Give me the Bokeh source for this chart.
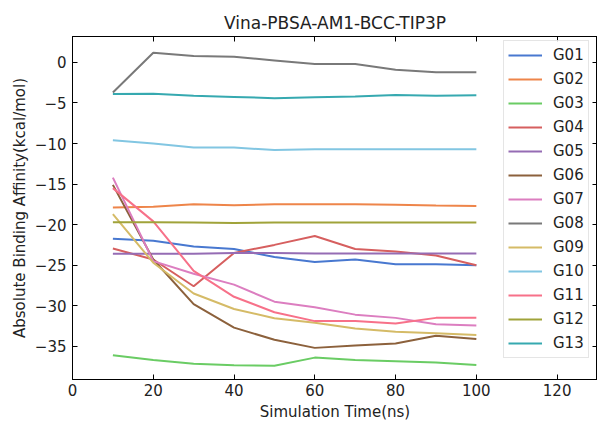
from bokeh.plotting import figure
from bokeh.models import LinearAxis, Range1d, FixedTicker, Legend, LegendItem
from bokeh.embed import file_html
from bokeh.resources import INLINE

time_ns = [10, 20, 30, 40, 50, 60, 70, 80, 90, 100]

G01 = [-21.75, -22.0, -22.7, -23.0, -24.0, -24.6, -24.3, -24.9, -24.9, -25.0]
G02 = [-17.9, -17.8, -17.5, -17.6, -17.5, -17.5, -17.5, -17.55, -17.65, -17.7]
G03 = [-36.1, -36.7, -37.15, -37.35, -37.4, -36.4, -36.7, -36.85, -37.0, -37.3]
G04 = [-22.95, -24.3, -27.6, -23.5, -22.5, -21.4, -23.0, -23.3, -23.8, -25.0]
G05 = [-23.6, -23.6, -23.6, -23.5, -23.5, -23.55, -23.55, -23.55, -23.55, -23.55]
G06 = [-15.1, -24.3, -29.8, -32.7, -34.2, -35.2, -34.9, -34.65, -33.7, -34.1]
G07 = [-14.2, -24.5, -26.05, -27.4, -29.5, -30.2, -31.1, -31.5, -32.3, -32.45]
G08 = [-3.7, 1.2, 0.8, 0.7, 0.25, -0.2, -0.2, -0.9, -1.2, -1.2]
G09 = [-18.7, -24.7, -28.5, -30.4, -31.55, -32.1, -32.8, -33.2, -33.4, -33.6]
G10 = [-9.6, -10.0, -10.5, -10.5, -10.8, -10.7, -10.7, -10.7, -10.7, -10.7]
G11 = [-15.5, -19.6, -25.7, -28.9, -30.8, -31.9, -31.9, -32.2, -31.5, -31.5]
G12 = [-19.7, -19.7, -19.75, -19.8, -19.75, -19.75, -19.75, -19.75, -19.75, -19.75]
G13 = [-3.9, -3.85, -4.1, -4.25, -4.4, -4.3, -4.2, -4.0, -4.1, -4.05]

names = ["G01", "G02", "G03", "G04", "G05", "G06", "G07", "G08", "G09", "G10", "G11", "G12", "G13"]
series = [G01, G02, G03, G04, G05, G06, G07, G08, G09, G10, G11, G12, G13]
colors = ["#4878d0", "#ee854a", "#6acc64", "#d65f5f", "#956cb4", "#8c613c", "#dc7ec0",
          "#797979", "#d5bb67", "#82c6e2", "#f77189", "#a0a33a", "#36a9b0"]

x_ticks = [0, 20, 40, 60, 80, 100, 120]
y_ticks = [0, -5, -10, -15, -20, -25, -30, -35]

FONT = "DejaVu Sans"

p = figure(frame_width=525, frame_height=343, output_backend="svg", toolbar_location=None,
           x_range=Range1d(0, 130), y_range=Range1d(-39.1, 3.2),
           min_border_left=72, min_border_right=0, min_border_top=36, min_border_bottom=0,
           title="Vina-PBSA-AM1-BCC-TIP3P")
p.title.align = "center"
p.title.text_font = FONT
p.title.text_font_size = "17px"
p.title.text_font_style = "normal"
p.title.text_color = "#222222"
p.title.offset = 0
p.title.standoff = 8
p.grid.visible = False
p.outline_line_color = "black"
p.outline_line_width = 1
p.background_fill_color = "white"
p.border_fill_color = "white"

def style_axis(ax, labels=True):
    ax.major_tick_in = 5
    ax.major_tick_out = 0
    ax.minor_tick_in = 0
    ax.minor_tick_out = 0
    ax.axis_line_color = "black"
    ax.major_tick_line_color = "black"
    ax.major_label_text_font = FONT
    ax.major_label_text_font_size = "15px"
    ax.major_label_text_color = "#222222"
    ax.major_label_text_line_height = 1.0
    ax.axis_label_text_font = FONT
    ax.axis_label_text_font_size = "15px"
    ax.axis_label_text_font_style = "normal"
    ax.axis_label_text_color = "#222222"
    ax.axis_label_text_line_height = 1.0
    if not labels:
        ax.major_label_text_alpha = 0
        ax.major_label_text_font_size = "0px"
        ax.major_label_standoff = 0
        ax.axis_label_standoff = 0

p.xaxis.ticker = FixedTicker(ticks=x_ticks)
p.yaxis.ticker = FixedTicker(ticks=y_ticks)
p.xaxis.axis_label = "Simulation Time(ns)"
p.yaxis.axis_label = "Absolute Binding Affinity(kcal/mol)"
style_axis(p.xaxis[0])
style_axis(p.yaxis[0])
p.xaxis.major_label_standoff = 4
p.yaxis.major_label_standoff = 6
p.xaxis.axis_label_standoff = 4
p.yaxis.axis_label_standoff = 3

top_ax = LinearAxis(ticker=FixedTicker(ticks=x_ticks))
style_axis(top_ax, labels=False)
p.add_layout(top_ax, "above")
right_ax = LinearAxis(ticker=FixedTicker(ticks=y_ticks))
style_axis(right_ax, labels=False)
p.add_layout(right_ax, "right")

items = []
for name, ys, c in zip(names, series, colors):
    r = p.line(time_ns, ys, line_color=c, line_width=2)
    items.append(LegendItem(label=name, renderers=[r]))

legend = Legend(items=items, location=(431, 21))
legend.label_text_font = FONT
legend.label_text_font_size = "15px"
legend.label_text_color = "#222222"
legend.glyph_width = 34
legend.glyph_height = 20
legend.label_height = 20
legend.label_standoff = 11
legend.spacing = 4
legend.padding = 4
legend.margin = 0
legend.border_line_color = "#cccccc"
legend.border_line_width = 1
legend.background_fill_color = "white"
legend.background_fill_alpha = 0.8
p.add_layout(legend, "center")

open("out.html", "w").write(file_html(p, INLINE))
